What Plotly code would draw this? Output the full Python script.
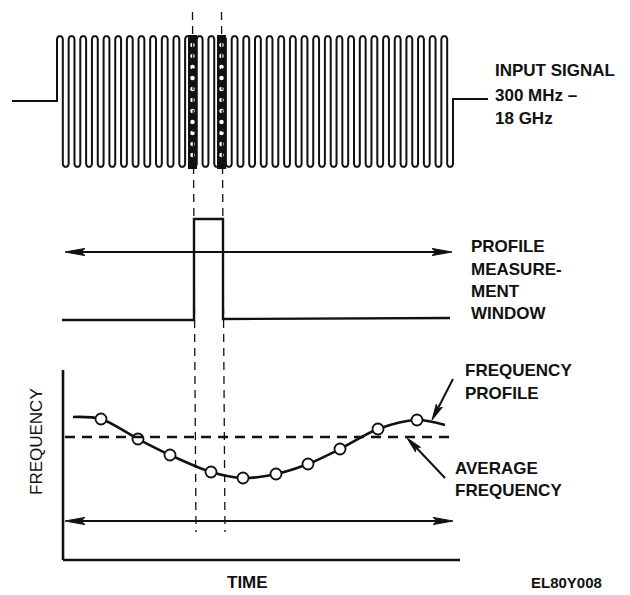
import numpy as np
import plotly.graph_objects as go

W, H = 630, 595
PAGE_MARGIN = 8   # default browser body margin; diagram coordinates are window pixels
INK = "#111111"
FONT = "Liberation Sans, Arial, sans-serif"

# ---------------- data / geometry (pixel-space diagram units) ----------------
# Input signal
sig_left_base_x = [12, 57]
sig_left_base_y = 101
sig_right_base_x = [453, 488]
sig_right_base_y = 99
sig_top, sig_bottom = 36, 167
sig_cycles = 34
band_x = [192.5, 221.5]           # highlighted (sampled) cycles
band_dots_y = [45, 56, 67, 78, 89, 100, 111, 122, 133, 144, 155]

# Measurement window pulse
pulse_x = [62, 194, 194, 223, 223, 450]
pulse_y = [320, 320, 219, 219, 319, 318]
window_arrow_x = [65, 452]
window_arrow_y = 252

# Sampling window marks (dashed verticals)
mark_top_x = [192.5, 221.5]
mark_bot_x = [196, 225]
mark_y = [12, 532]

# Frequency profile
curve_t = [73, 101, 138, 170, 211, 243, 276, 308, 340, 378, 417, 445]
curve_f = [417, 419, 439, 455, 472, 478, 474, 464, 449, 429, 420, 425]
sample_t = curve_t[1:-1]
sample_f = curve_f[1:-1]
avg_f = 437
avg_t = [65, 455]
time_arrow_x = [65, 453]
time_arrow_y = 521
axis_origin = (63, 560)
axis_top = 370
axis_right = 460

# Labels
labels = [
    ("INPUT SIGNAL", 493, 70), ("300 MHz \u2013", 493, 95), ("18 GHz", 493, 118),
    ("PROFILE", 469, 246), ("MEASURE-", 469, 269), ("MENT", 469, 291), ("WINDOW", 469, 313),
    ("FREQUENCY", 463, 370), ("PROFILE", 463, 393),
    ("AVERAGE", 453, 468), ("FREQUENCY", 453, 490),
]

# ---------------- build figure ----------------
fig = go.Figure()
shapes = []

def seg(x0, y0, x1, y1, width=2.2, dash="solid"):
    shapes.append(dict(type="line", x0=x0, y0=y0, x1=x1, y1=y1,
                       line=dict(color=INK, width=width, dash=dash), layer="above"))

def head(tip, tail, length=20, half=3.6):
    tx, ty = tip
    vx, vy = tail[0] - tx, tail[1] - ty
    n = (vx ** 2 + vy ** 2) ** 0.5
    ux, uy = vx / n, vy / n
    bx, by = tx + ux * length, ty + uy * length
    px, py = -uy * half, ux * half
    shapes.append(dict(type="path",
                       path=f"M {tx},{ty} L {bx+px},{by+py} L {tx+ux*length*0.8},{ty+uy*length*0.8} L {bx-px},{by-py} Z",
                       fillcolor=INK, line=dict(color=INK, width=1), layer="above"))

# serpentine input signal
x0s, x1s = sig_left_base_x[1], sig_right_base_x[0]
nlines = 2 * sig_cycles
d = (x1s - x0s) / nlines
r = d / 2
px_, py_ = [sig_left_base_x[0], x0s], [sig_left_base_y, sig_left_base_y]
phi = np.linspace(np.pi, 0, 9)
for i in range(nlines):
    xi = x0s + i * d
    cx = xi + r
    if i % 2 == 0:   # going up, then top cap
        px_ += [xi]; py_ += [sig_top + r]
        px_ += list(cx + r * np.cos(phi)); py_ += list(sig_top + r - r * np.sin(phi))
    else:            # going down, then bottom cap
        px_ += [xi]; py_ += [sig_bottom - r]
        px_ += list(cx + r * np.cos(phi)); py_ += list(sig_bottom - r + r * np.sin(phi))
px_ += [x1s, sig_right_base_x[1]]
py_ += [sig_right_base_y, sig_right_base_y]
fig.add_trace(go.Scatter(x=px_, y=py_, mode="lines", line=dict(color=INK, width=2.0),
                         hoverinfo="skip", showlegend=False))

# dark sampled bands with white dots
for bx in band_x:
    shapes.append(dict(type="rect", x0=bx - 4.5, x1=bx + 4.5, y0=sig_top - 1, y1=sig_bottom + 2,
                       fillcolor=INK, line=dict(width=0), layer="below"))
fig.add_trace(go.Scatter(
    x=[bx for bx in band_x for _ in band_dots_y],
    y=[yy for _ in band_x for yy in band_dots_y],
    mode="markers", marker=dict(color="white", size=4.5, line=dict(width=0)),
    hoverinfo="skip", showlegend=False))

# dashed sampling marks
for xt, xb in zip(mark_top_x, mark_bot_x):
    seg(xt, mark_y[0], xb, mark_y[1], width=1.3, dash="8px,6px")

# pulse
fig.add_trace(go.Scatter(x=pulse_x, y=pulse_y, mode="lines", line=dict(color=INK, width=2.4),
                         hoverinfo="skip", showlegend=False))
# window double arrow
seg(window_arrow_x[0] + 10, window_arrow_y, window_arrow_x[1] - 10, window_arrow_y, width=2.2)
head((window_arrow_x[0], window_arrow_y), (window_arrow_x[1], window_arrow_y))
head((window_arrow_x[1], window_arrow_y), (window_arrow_x[0], window_arrow_y))

# axes of profile plot
seg(axis_origin[0], axis_top, axis_origin[0], axis_origin[1], width=2.6)
seg(axis_origin[0], axis_origin[1], axis_right, axis_origin[1], width=2.6)

# average frequency dashed line
seg(avg_t[0], avg_f, avg_t[1], avg_f, width=2.4, dash="10px,7px")

# time double arrow
seg(time_arrow_x[0] + 10, time_arrow_y, time_arrow_x[1] - 10, time_arrow_y, width=2.2)
head((time_arrow_x[0], time_arrow_y), (time_arrow_x[1], time_arrow_y))
head((time_arrow_x[1], time_arrow_y), (time_arrow_x[0], time_arrow_y))

# pointer arrows
seg(453, 379, 434, 416, width=2)
head((432, 420), (453, 379), length=16, half=3.4)
seg(445, 478, 410, 441, width=2)
head((407, 438), (445, 478), length=16, half=3.4)

# frequency profile curve + samples
fig.add_trace(go.Scatter(x=curve_t, y=curve_f, mode="lines",
                         line=dict(color=INK, width=2.6, shape="spline", smoothing=0.9),
                         hoverinfo="skip", showlegend=False))
fig.add_trace(go.Scatter(x=sample_t, y=sample_f, mode="markers",
                         marker=dict(color="white", size=11, line=dict(color=INK, width=1.8)),
                         hoverinfo="skip", showlegend=False))

annotations = []
for text, x, y in labels:
    annotations.append(dict(x=x, y=y, text=text, showarrow=False, xanchor="left", yanchor="middle",
                            font=dict(family=FONT, size=17, color=INK, weight="bold")))
annotations.append(dict(x=247, y=582, text="TIME", showarrow=False, xanchor="center", yanchor="middle",
                        font=dict(family=FONT, size=17, color=INK, weight="bold")))
annotations.append(dict(x=529, y=582, text="EL80Y008", showarrow=False, xanchor="left", yanchor="middle",
                        font=dict(family=FONT, size=15, color=INK, weight="bold")))
annotations.append(dict(x=36, y=442, text="FREQUENCY", showarrow=False, textangle=-90,
                        xanchor="center", yanchor="middle",
                        font=dict(family=FONT, size=17, color=INK)))

fig.update_layout(
    width=W - PAGE_MARGIN, height=H - PAGE_MARGIN, margin=dict(l=0, r=0, t=0, b=0),
    paper_bgcolor="white", plot_bgcolor="white",
    xaxis=dict(range=[PAGE_MARGIN, W], visible=False, fixedrange=True),
    yaxis=dict(range=[H, PAGE_MARGIN], visible=False, fixedrange=True),
    shapes=shapes, annotations=annotations, showlegend=False,
)
fig.write_html("out.html")
